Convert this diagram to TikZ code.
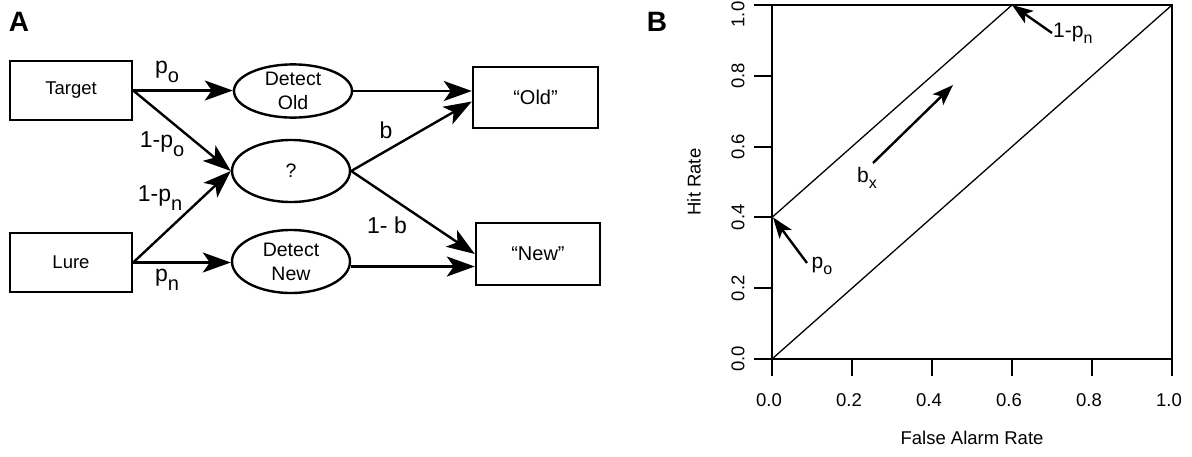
\documentclass[tikz,border=0pt]{standalone}
\usepackage{fontspec}
\setmainfont{Liberation Sans}
\usetikzlibrary{arrows.meta,shapes.geometric,calc}
\newcommand{\subl}[2]{#1\raisebox{-9pt}{\fontsize{20}{20}\selectfont #2}}
\newcommand{\subp}[2]{#1\raisebox{-6pt}{\fontsize{16}{16}\selectfont #2}}
\begin{document}
\begin{tikzpicture}[x=1pt,y=-1pt,
  box/.style={draw, line width=2.4pt, minimum width=122pt, minimum height=59pt, inner sep=0pt, font=\fontsize{18.5}{20}\selectfont},
  oval/.style={draw, ellipse, line width=2.4pt, minimum width=118pt, inner sep=0pt, align=center, font=\fontsize{19.5}{24}\selectfont},
  arr/.style={line width=2.4pt, -{Stealth[length=28pt,width=20pt,inset=7pt]}},
  arrp/.style={line width=2.4pt, -{Stealth[length=21pt,width=15pt,inset=5pt]}},
  lab/.style={font=\fontsize{23}{23}\selectfont, inner sep=0pt},
  plab/.style={font=\fontsize{21}{21}\selectfont, inner sep=0pt},
  tick/.style={font=\fontsize{18.5}{20}\selectfont, inner sep=0pt},
  panel/.style={font=\bfseries\fontsize{28}{28}\selectfont, inner sep=0pt},
  frame/.style={line width=2pt},
  thinl/.style={line width=1.3pt}]
\useasboundingbox (0,0) rectangle (1192,456);

% Panel A
\node[panel] (A) at (19,22) {A};
\node[box] (T) at (71,90.5) {Target};
\node[box] (L) at (71,262.5) {Lure};
\node[oval, minimum height=52pt] (DO) at (293,91) {Detect\\Old};
\node[oval, minimum height=62pt] (Q) at (291,171) {?};
\node[oval, minimum height=63pt] (DN) at (291,261.5) {Detect\\New};
\node[box, minimum width=125pt, minimum height=61pt, font=\fontsize{20}{22}\selectfont] (O) at (535.5,97.5) {“Old”};
\node[box, minimum width=124pt, minimum height=62pt, font=\fontsize{20}{22}\selectfont] (N) at (538,254) {“New”};

\draw[arr] (T.east) -- (T.east -| DO.west);
\draw[arr] (T.east) -- (Q.west);
\draw[arr] (L.east) -- (Q.west);
\draw[arr] (L.east) -- (L.east -| DN.west);
\draw[arr] (DO.east) -- (DO.east -| O.west);
\draw[arr] (Q.east) -- ([yshift=-4pt]O.west);
\draw[arr] (Q.east) -- (N.west);
\draw[arr] ([yshift=-5pt]DN.east) -- ([yshift=-5pt]DN.east -| N.west);

\node[lab] (lpo) at (167,72) {\subl{p}{o}};
\node[lab] (l1po) at (162,144) {\subl{1-p}{o}};
\node[lab] (l1pn) at (160,198) {\subl{1-p}{n}};
\node[lab] (lpn) at (167,280) {\subl{p}{n}};
\node[lab] (lb) at (386,130) {b};
\node[lab] (l1b) at (387,225) {1- b};

% Panel B
\node[panel] (B) at (657,22) {B};
\draw[frame] (772,5) rectangle (1172,359);
\draw[thinl] (772,359) -- (1172,5);
\draw[thinl] (772,217.4) -- (1012,5);
\foreach \i/\t in {0/0.0,1/0.2,2/0.4,3/0.6,4/0.8,5/1.0} {
  \draw[frame] ({772+80*\i},359) -- ({772+80*\i},376);
  \node[tick] at ({769+80*\i},400) {\t};
  \draw[frame] (754,{359-70.8*\i}) -- (772,{359-70.8*\i});
}
\foreach \i/\t in {0/0.0,1/0.2,2/0.4,3/0.6,4/0.8} {
  \node[tick, rotate=90] at (738,{359-70.8*\i}) {\t};
}
\node[tick, rotate=90, anchor=east] (y10) at (738,1.5) {1.0};
\node[tick, rotate=90] (yl) at (694,182) {Hit Rate};
\node[tick] (xl) at (972,438) {False Alarm Rate};

\coordinate (tipn) at (1012,5);
\coordinate (tipo) at (773,217.4);
\node[plab, anchor=west] (lpn2) at (1053,33) {\subp{1-p}{n}};
\node[plab] (lpo2) at (822,266) {\subp{p}{o}};
\node[plab] (lbx) at (867,178) {\subp{b}{x}};
\draw[arrp] (1052,33) -- (tipn);
\draw[arrp] (807,263) -- (tipo);
\draw[arrp] (873,163) -- (953,85);
\end{tikzpicture}
\end{document}
